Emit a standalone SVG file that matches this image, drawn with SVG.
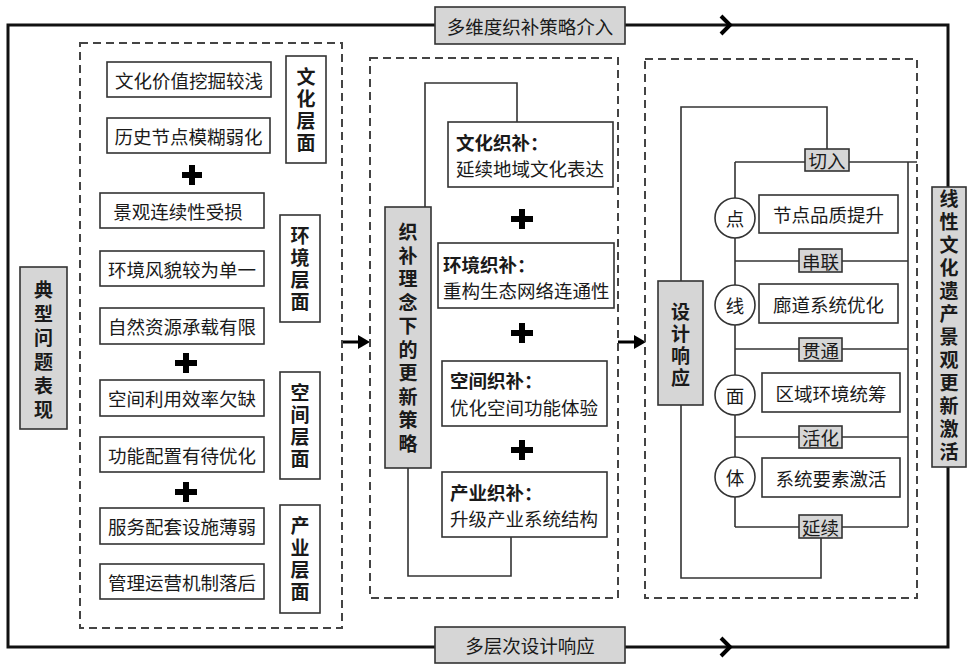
<svg xmlns="http://www.w3.org/2000/svg" width="967" height="665" viewBox="0 0 967 665">
<style>
text{font-family:"Noto Sans CJK SC","Noto Sans",sans-serif;fill:#1a1a1a}
.t{font-size:18.5px;text-anchor:middle;dominant-baseline:central}
.tl{font-size:18.5px;dominant-baseline:central}
.b{font-weight:bold}
.box{fill:#fff;stroke:#333;stroke-width:1.6}
.gray{fill:#d6d6d6;stroke:#333;stroke-width:1.6}
.dash{fill:none;stroke:#444;stroke-width:2;stroke-dasharray:8 5}
.frame{fill:none;stroke:#111;stroke-width:3}
.ln{fill:none;stroke:#333;stroke-width:1.6}
.plus{stroke:#000;stroke-width:6;fill:none}
.chev{fill:none;stroke:#000;stroke-width:4;stroke-linejoin:miter}
.vt{font-size:19px;font-weight:bold;writing-mode:vertical-rl;text-orientation:upright;text-anchor:start}
</style>
<rect width="967" height="665" fill="#fff"/>

<g id="connectors">
  <rect class="frame" x="8" y="25" width="940" height="622"/>
  <path class="chev" d="M721,16 L730,25 L721,34"/>
  <path class="chev" d="M721,638 L730,647 L721,656"/>
  <line x1="342" y1="342" x2="360" y2="342" stroke="#000" stroke-width="3"/>
  <path d="M358,335 L370,342 L358,349 Z" fill="#000"/>
  <line x1="618" y1="342" x2="636" y2="342" stroke="#000" stroke-width="3"/>
  <path d="M634,335 L646,342 L634,349 Z" fill="#000"/>
  <path class="ln" d="M425,207 V83 H517 V122"/>
  <path class="ln" d="M408,468 V576 H511 V537"/>
  <path class="ln" d="M681,281 V107 H827 V149"/>
  <path class="ln" d="M681,405 V578 H821 V538"/>
  <path class="ln" d="M735,162 V527"/>
  <path class="ln" d="M908,162 V527"/>
  <path class="ln" d="M735,162 H917"/>
  <path class="ln" d="M735,261 H908"/>
  <path class="ln" d="M735,349 H908"/>
  <path class="ln" d="M735,437 H908"/>
  <path class="ln" d="M735,527 H908"/>
</g>

<rect class="dash" x="80" y="43" width="262" height="585"/>
<rect class="dash" x="370" y="58" width="248" height="540"/>
<rect class="dash" x="645" y="59" width="272" height="539"/>

<g id="top-label"><rect class="gray" x="435" y="7" width="190" height="37"/><text class="t" x="530" y="26">多维度织补策略介入</text></g>
<g id="bottom-label"><rect class="gray" x="435" y="627" width="190" height="36"/><text class="t" x="530" y="645">多层次设计响应</text></g>

<g id="left-title"><rect class="gray" x="20" y="267" width="47" height="162"/>
<text class="vt" x="43.5" y="280.5" letter-spacing="5">典型问题表现</text></g>

<g id="right-title"><rect class="gray" x="932" y="187" width="34" height="280"/>
<text class="vt" x="949" y="189.5" letter-spacing="4">线性文化遗产景观更新激活</text></g>

<g id="p1"><rect class="box" x="107" y="62" width="164" height="35"/><text class="t" x="189" y="80">文化价值挖掘较浅</text></g>
<g id="p2"><rect class="box" x="107" y="118" width="163" height="35"/><text class="t" x="188.5" y="136">历史节点模糊弱化</text></g>
<g id="p3"><rect class="box" x="100" y="193" width="164" height="35"/><text class="t" x="178" y="211">景观连续性受损</text></g>
<g id="p4"><rect class="box" x="100" y="251" width="164" height="35"/><text class="t" x="182" y="269">环境风貌较为单一</text></g>
<g id="p5"><rect class="box" x="100" y="308" width="164" height="36"/><text class="t" x="182" y="326">自然资源承载有限</text></g>
<g id="p6"><rect class="box" x="100" y="380" width="164" height="36"/><text class="t" x="182" y="398">空间利用效率欠缺</text></g>
<g id="p7"><rect class="box" x="100" y="437" width="164" height="35"/><text class="t" x="182" y="455">功能配置有待优化</text></g>
<g id="p8"><rect class="box" x="100" y="508" width="164" height="36"/><text class="t" x="182" y="526">服务配套设施薄弱</text></g>
<g id="p9"><rect class="box" x="100" y="564" width="164" height="35"/><text class="t" x="182" y="582">管理运营机制落后</text></g>

<g id="plus-left">
  <path class="plus" d="M182,175 H202 M192,165 V185"/>
  <path class="plus" d="M175,363 H197 M186,353 V373"/>
  <path class="plus" d="M175,492 H197 M186,482 V502"/>
</g>

<g id="lv1"><rect class="box" x="286" y="56" width="40" height="107"/><text class="vt" x="306" y="67.5" letter-spacing="3">文化层面</text></g>
<g id="lv2"><rect class="box" x="280" y="215" width="40" height="107"/><text class="vt" x="300" y="226.5" letter-spacing="3">环境层面</text></g>
<g id="lv3"><rect class="box" x="280" y="372" width="40" height="107"/><text class="vt" x="300" y="383.5" letter-spacing="3">空间层面</text></g>
<g id="lv4"><rect class="box" x="280" y="505" width="40" height="108"/><text class="vt" x="300" y="516.5" letter-spacing="3">产业层面</text></g>

<g id="mid-title"><rect class="gray" x="385" y="207" width="46" height="261"/>
<text class="vt" x="408" y="222.5" letter-spacing="4.5">织补理念下的更新策略</text></g>

<g id="m1"><rect class="box" x="448" y="122" width="165" height="65"/><text class="tl b" x="456" y="142">文化织补：</text><text class="tl" x="456" y="168">延续地域文化表达</text></g>
<g id="m2"><rect class="box" x="438" y="243" width="176" height="65"/><text class="tl b" x="443" y="264">环境织补：</text><text class="tl" x="443" y="290">重构生态网络连通性</text></g>
<g id="m3"><rect class="box" x="442" y="361" width="165" height="65"/><text class="tl b" x="450" y="380">空间织补：</text><text class="tl" x="450" y="407">优化空间功能体验</text></g>
<g id="m4"><rect class="box" x="442" y="472" width="165" height="65"/><text class="tl b" x="450" y="492">产业织补：</text><text class="tl" x="450" y="518">升级产业系统结构</text></g>

<g id="plus-mid">
  <path class="plus" d="M511,219 H533 M522,209 V229"/>
  <path class="plus" d="M511,333 H533 M522,323 V343"/>
  <path class="plus" d="M511,450 H533 M522,440 V460"/>
</g>

<g id="design"><rect class="gray" x="658" y="281" width="45" height="124"/><text class="vt" x="680.5" y="302.5" letter-spacing="3">设计响应</text></g>

<g id="k1"><rect class="gray" x="805" y="149" width="44" height="22"/><text class="t" x="827" y="160">切入</text></g>
<g id="k2"><rect class="gray" x="799" y="249" width="43" height="23"/><text class="t" x="820.5" y="260.5">串联</text></g>
<g id="k3"><rect class="gray" x="799" y="338" width="43" height="23"/><text class="t" x="820.5" y="349.5">贯通</text></g>
<g id="k4"><rect class="gray" x="799" y="426" width="43" height="22"/><text class="t" x="820.5" y="437">活化</text></g>
<g id="k5"><rect class="gray" x="799" y="515" width="43" height="23"/><text class="t" x="820.5" y="526.5">延续</text></g>

<g id="c1"><circle cx="735" cy="218" r="20" class="box"/><text class="t" x="735" y="218">点</text></g>
<g id="c2"><circle cx="735" cy="305" r="20" class="box"/><text class="t" x="735" y="305">线</text></g>
<g id="c3"><circle cx="735" cy="395" r="20" class="box"/><text class="t" x="735" y="395">面</text></g>
<g id="c4"><circle cx="735" cy="477" r="20" class="box"/><text class="t" x="735" y="477">体</text></g>

<g id="r1"><rect class="box" x="759" y="195" width="139" height="38"/><text class="t" x="828.5" y="214">节点品质提升</text></g>
<g id="r2"><rect class="box" x="759" y="284" width="139" height="39"/><text class="t" x="828.5" y="303.5">廊道系统优化</text></g>
<g id="r3"><rect class="box" x="762" y="373" width="138" height="39"/><text class="t" x="831" y="392.5">区域环境统筹</text></g>
<g id="r4"><rect class="box" x="762" y="458" width="138" height="39"/><text class="t" x="831" y="477.5">系统要素激活</text></g>
</svg>
